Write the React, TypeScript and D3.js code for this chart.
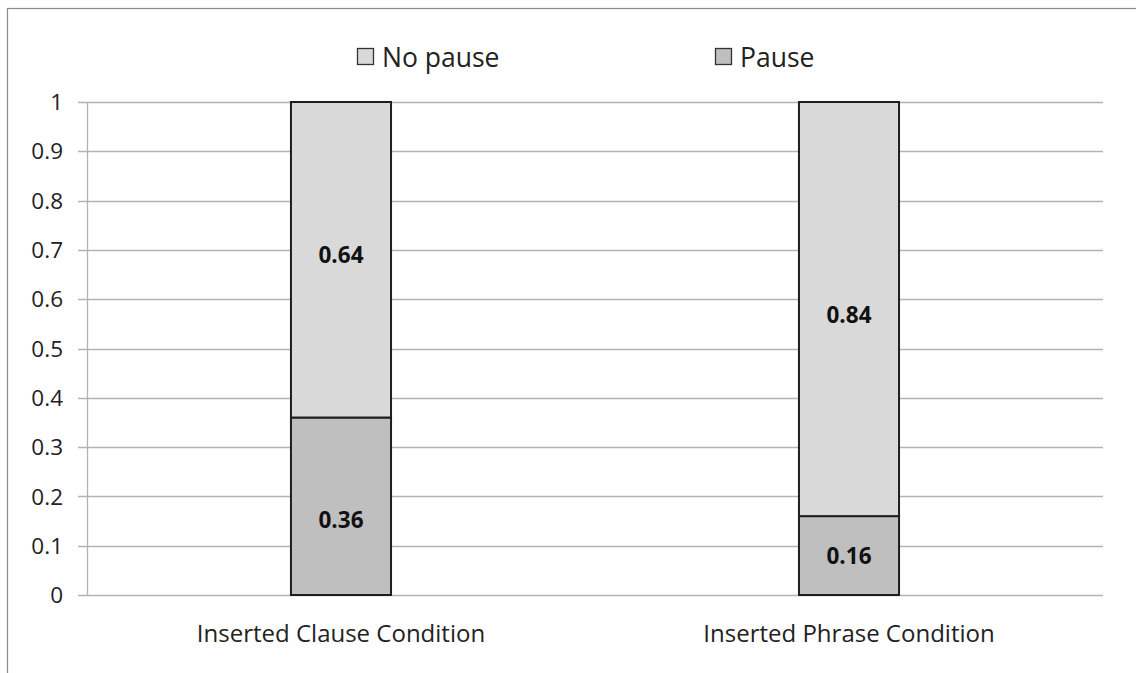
import React from "react";
import * as d3 from "d3";

const categories = ["Inserted Clause Condition", "Inserted Phrase Condition"];
const pauseValues = [0.36, 0.16];
const noPauseValues = [0.64, 0.84];
const seriesNames = ["No pause", "Pause"];
const yTicks = [0, 0.1, 0.2, 0.3, 0.4, 0.5, 0.6, 0.7, 0.8, 0.9, 1];

const W = 1136;
const H = 673;
const FONT = "'Open Sans', 'Noto Sans', sans-serif";
// pixel nudges for data labels, matching the reference placement
const labelNudge: Record<string, number[]> = { Pause: [14, 0], "No pause": [-5, 6] };

export default function App() {
  const left = 87;
  const right = 1103;
  const top = 102;
  const bottom = 595;

  const x = d3.scaleBand<string>().domain(categories).range([left, right]).paddingInner(0.803).paddingOuter(0.4015);
  const y = d3.scaleLinear().domain([0, 1]).range([bottom, top]);

  const rows = categories.map((c, i) => ({ cat: c, Pause: pauseValues[i], "No pause": noPauseValues[i] }));
  const stack = d3.stack<any>().keys(["Pause", "No pause"])(rows);
  const fills: Record<string, string> = { Pause: "#bfbfbf", "No pause": "#d9d9d9" };

  const legendItems = [
    { name: seriesNames[0], x: 357, fill: fills["No pause"] },
    { name: seriesNames[1], x: 715, fill: fills["Pause"] },
  ];

  return (
    <svg width={W} height={H} style={{ position: "absolute", left: 0, top: 0 }}>
      <rect x={0} y={0} width={W} height={H} fill="#fff" />
      <rect x={7.5} y={8.5} width={W + 20} height={H + 20} fill="none" stroke="#898989" strokeWidth={1.2} />
      {yTicks.map((t) => (
        <line key={t} x1={78} x2={right} y1={Math.round(y(t)) + 0.5} y2={Math.round(y(t)) + 0.5} stroke="#b3b3b3" strokeWidth={1.3} />
      ))}
      <line x1={left + 0.5} x2={left + 0.5} y1={top} y2={bottom} stroke="#b3b3b3" strokeWidth={1.3} />
      {yTicks.map((t) => (
        <text key={"l" + t} x={63} y={y(t)} dy="0.36em" textAnchor="end" fontFamily={FONT} fontSize={22.5} fill="#222">
          {d3.format("~g")(t)}
        </text>
      ))}
      {stack.map((s) =>
        s.map((d, i) => (
          <rect
            key={s.key + i}
            x={x(categories[i])!}
            y={y(d[1])}
            width={x.bandwidth()}
            height={y(d[0]) - y(d[1])}
            fill={fills[s.key]}
            stroke="#1e1e1e"
            strokeWidth={2}
          />
        ))
      )}
      {stack.map((s) =>
        s.map((d, i) => (
          <text
            key={"v" + s.key + i}
            x={x(categories[i])! + x.bandwidth() / 2}
            y={(y(d[0]) + y(d[1])) / 2 + labelNudge[s.key][i]}
            dy="0.36em"
            textAnchor="middle"
            fontFamily={FONT}
            fontWeight="bold"
            fontSize={22.5}
            fill="#111"
          >
            {(d[1] - d[0]).toFixed(2)}
          </text>
        ))
      )}
      {categories.map((c) => (
        <text key={c} x={x(c)! + x.bandwidth() / 2} y={633} dy="0.36em" textAnchor="middle" fontFamily={FONT} fontSize={24} fill="#222">
          {c}
        </text>
      ))}
      {legendItems.map((l) => (
        <g key={l.name}>
          <rect x={l.x + 0.5} y={48.5} width={16} height={16} fill={l.fill} stroke="#333" strokeWidth={1.3} />
          <text x={l.x + 25} y={57} dy="0.36em" fontFamily={FONT} fontSize={26.5} fill="#222">
            {l.name}
          </text>
        </g>
      ))}
    </svg>
  );
}
